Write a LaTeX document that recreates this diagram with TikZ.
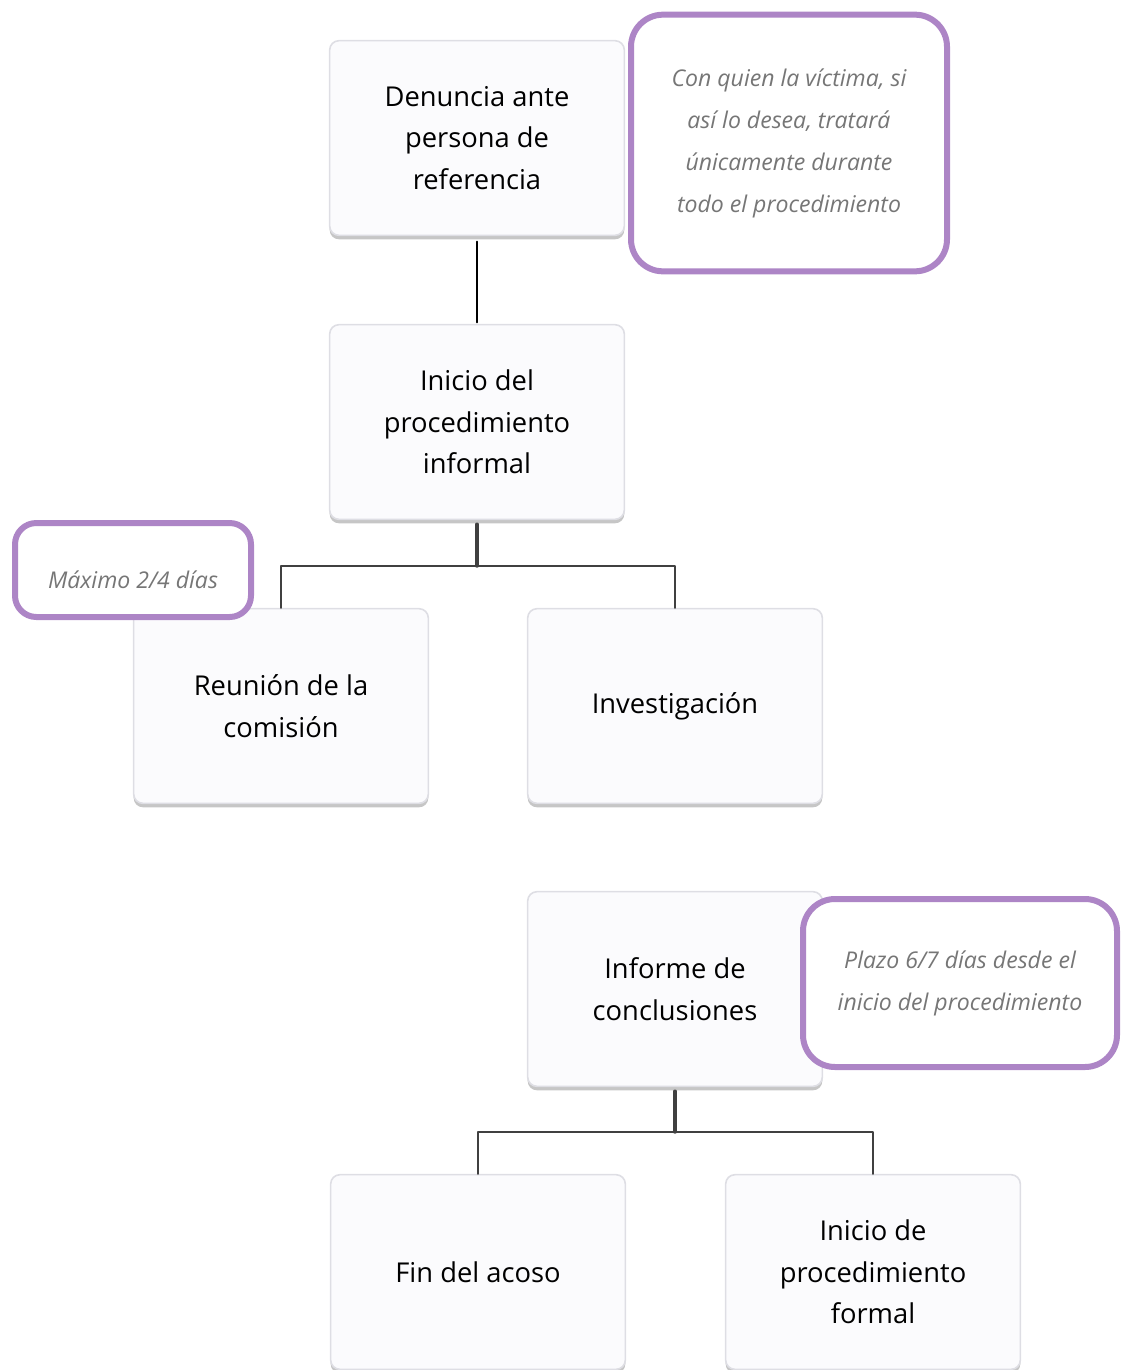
\documentclass[tikz,border=0pt]{standalone}
\usepackage{fontspec}
\setmainfont{Open Sans}
\usetikzlibrary{shadows}
\definecolor{lila}{RGB}{173,133,198}
\definecolor{gristexto}{RGB}{118,118,118}
\definecolor{fondo}{RGB}{251,251,253}
\definecolor{borde}{RGB}{222,222,228}
\definecolor{linea}{RGB}{64,64,64}
\begin{document}
\begin{tikzpicture}[x=0.75pt,y=0.75pt,line cap=round,line join=round,
		paso/.style={draw=borde,line width=1.2pt,fill=fondo,rounded corners=7pt,minimum width=221pt,minimum height=146pt,align=center,font=\fontsize{20.5}{31}\selectfont,drop shadow={shadow xshift=0pt,shadow yshift=-3pt,opacity=0.45,fill=gray}},
		nota/.style={draw=lila,line width=4.5pt,fill=white,rounded corners=24pt,align=center,text=gristexto,font=\fontsize{17.3}{31.5}\selectfont\itshape}]
		\useasboundingbox (0,0) rectangle (1122,-1370);
		\node[paso] (den) at (477,-138) {Denuncia ante\\persona de\\referencia};
		\node[paso] (ini) at (477,-422) {Inicio del\\procedimiento\\informal};
		\node[paso] (reu) at (281,-706) {Reunión de la\\comisión};
		\node[paso] (inv) at (675,-706) {Investigación};
		\node[paso] (inf) at (675,-989) {Informe de\\conclusiones};
		\node[paso] (fin) at (478,-1272) {Fin del acoso};
		\node[paso] (for) at (873,-1272) {Inicio de\\procedimiento\\formal};
		\draw[line width=1.1pt,shorten <=4pt,shorten >=1pt] (den.south) -- (ini.north);
		\draw[linea,line width=2.4pt,shorten <=3pt] (ini.south) -- ++(0,-46) coordinate (r1);
		\draw[linea,line width=1.7pt] (reu.north) |- (r1) -| (inv.north);
		\draw[linea,line width=2.4pt,shorten <=3pt] (inf.south) -- ++(0,-45) coordinate (r2);
		\draw[linea,line width=1.7pt] (fin.north) |- (r2) -| (for.north);
		\node[nota,minimum width=237pt,minimum height=192.5pt] (n1) at (789,-143) {Con quien la víctima, si\\así lo desea, tratará\\únicamente durante\\todo el procedimiento};
		\node[nota,minimum width=177pt,minimum height=70.5pt,rounded corners=16pt] (n2) at (133,-570) {\rule{0pt}{28pt}Máximo 2/4 días};
		\node[nota,minimum width=235.5pt,minimum height=126pt] (n3) at (960,-983) {Plazo 6/7 días desde el\\inicio del procedimiento};
	\end{tikzpicture}
\end{document}
